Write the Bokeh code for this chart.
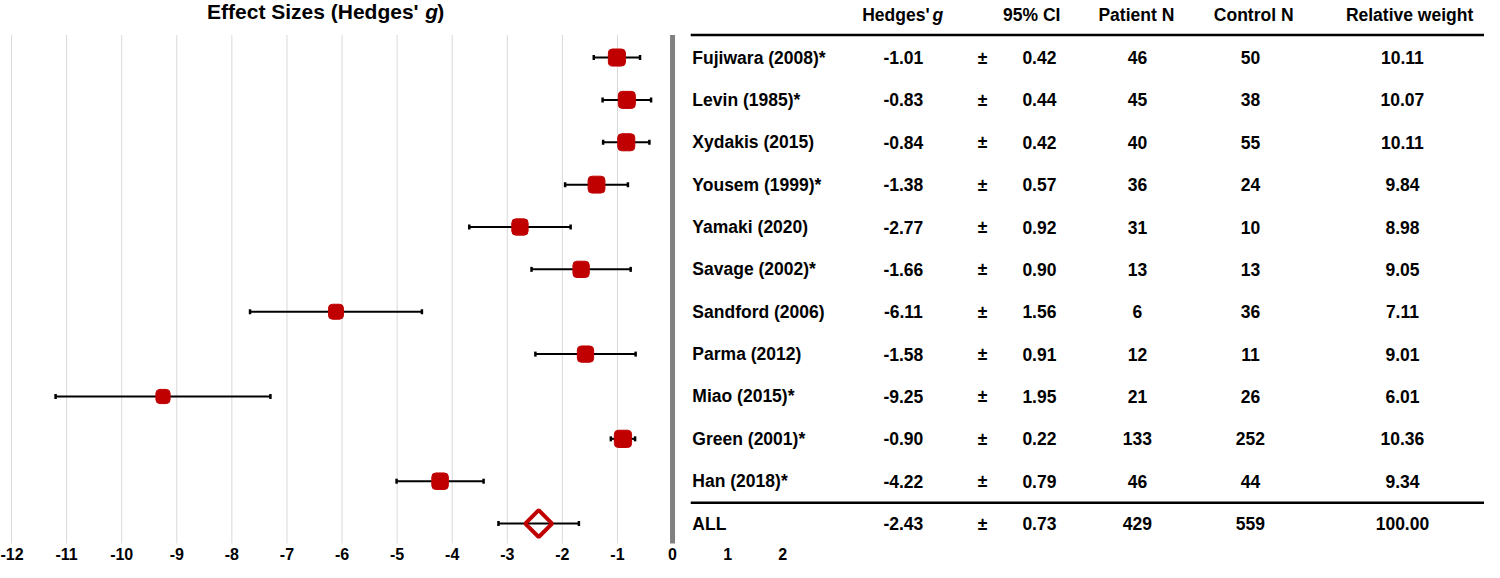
import numpy as np
from bokeh.plotting import figure
from bokeh.models import Range1d, FixedTicker
from bokeh.core.properties import value
from bokeh.embed import file_html
from bokeh.resources import INLINE

# ---------------- data ----------------
studies = ["Fujiwara (2008)*", "Levin (1985)*", "Xydakis (2015)", "Yousem (1999)*",
           "Yamaki (2020)", "Savage (2002)*", "Sandford (2006)", "Parma (2012)",
           "Miao (2015)*", "Green (2001)*", "Han (2018)*"]
hedges_g = [-1.01, -0.83, -0.84, -1.38, -2.77, -1.66, -6.11, -1.58, -9.25, -0.90, -4.22]
ci95 = [0.42, 0.44, 0.42, 0.57, 0.92, 0.90, 1.56, 0.91, 1.95, 0.22, 0.79]
patient_n = [46, 45, 40, 36, 31, 13, 6, 12, 21, 133, 46]
control_n = [50, 38, 55, 24, 10, 13, 36, 11, 26, 252, 44]
rel_weight = [10.11, 10.07, 10.11, 9.84, 8.98, 9.05, 7.11, 9.01, 6.01, 10.36, 9.34]

pooled_label = "ALL"
pooled_g = -2.43
pooled_ci = 0.73
pooled_patient = 429
pooled_control = 559
pooled_weight = 100.00

x_ticks = list(range(-12, 3))
grid_ticks = list(range(-12, 0))
title_parts = ["Effect Sizes (Hedges'", "g", ")"]
header_labels = ["Hedges'", "g", "95% CI", "Patient N", "Control N", "Relative weight"]

# ---------------- layout / style constants ----------------
FONT = value("Liberation Sans")
RED = "#c00000"
TBL_SIZE = "17.5px"
COL_NAME, COL_G, COL_PM, COL_CI, COL_PAT, COL_CTL, COL_W = 0.36, 4.19, 5.63, 6.66, 8.44, 10.49, 13.25
HDR_Y = -1.0
TITLE_Y = -1.08
TOP_LINE_Y = -0.53
BOTTOM_LINE_Y = 10.51
LINE_X0, LINE_X1 = 0.33, 15.2

n = len(studies)
ys = list(range(n))
pooled_y = n

p = figure(width=1484, height=562,
           x_range=Range1d(-12.2, 14.74), y_range=Range1d(11.47, -1.346),
           output_backend="svg", toolbar_location=None, y_axis_location=None,
           min_border_left=0, min_border_right=0, min_border_top=0, min_border_bottom=0)
p.outline_line_color = None
p.xgrid.visible = False
p.ygrid.visible = False
p.background_fill_color = "white"

ax = p.xaxis[0]
ax.ticker = FixedTicker(ticks=x_ticks)
ax.major_label_overrides = {t: str(t) for t in x_ticks}
ax.axis_line_color = None
ax.major_tick_line_color = None
ax.minor_tick_line_color = None
ax.major_tick_out = 0
ax.major_tick_in = 0
ax.major_label_standoff = 4
ax.major_label_text_font = "Liberation Sans"
ax.major_label_text_font_style = "bold"
ax.major_label_text_font_size = "16px"
ax.major_label_text_color = "black"

# grid lines (only for negative ticks)
p.segment(x0=grid_ticks, y0=[TOP_LINE_Y] * len(grid_ticks), x1=grid_ticks, y1=[12] * len(grid_ticks),
          line_color="#d9d9d9", line_width=1)
# null line bar
p.segment(x0=[0], y0=[TOP_LINE_Y], x1=[0], y1=[12], line_color="#808080", line_width=5)

# error bars
lo = [g - c for g, c in zip(hedges_g, ci95)] + [pooled_g - pooled_ci]
hi = [g + c for g, c in zip(hedges_g, ci95)] + [pooled_g + pooled_ci]
all_y = ys + [pooled_y]
p.segment(x0=lo, y0=all_y, x1=hi, y1=all_y, line_color="black", line_width=2)
p.scatter(x=lo + hi, y=all_y + all_y, marker="dash", angle=np.pi / 2, size=5,
          line_color="black", line_width=2.5)

# study markers
sizes = [10 + 0.7 * w for w in rel_weight]
p.rect(x=hedges_g, y=ys, width=sizes, height=sizes, width_units="screen", height_units="screen",
       fill_color=RED, line_color=RED, border_radius=4)

# pooled diamond
p.scatter(x=[pooled_g], y=[pooled_y], marker="square", angle=np.pi / 4, size=19,
          fill_color=None, line_color=RED, line_width=4)

# title
p.text(x=[-4.61], y=[TITLE_Y], text=[title_parts[0]], text_font=FONT, text_font_style="bold",
       text_font_size="21px", text_align="right", text_baseline="middle", text_color="black")
p.text(x=[-4.49], y=[TITLE_Y], text=[title_parts[1]], text_font=FONT, text_font_style="bold italic",
       text_font_size="21px", text_align="left", text_baseline="middle", text_color="black")
p.text(x=[-4.27], y=[TITLE_Y], text=[title_parts[2]], text_font=FONT, text_font_style="bold",
       text_font_size="21px", text_align="left", text_baseline="middle", text_color="black")

# header
p.text(x=[4.666], y=[HDR_Y], text=[header_labels[0]], text_font=FONT, text_font_style="bold",
       text_font_size=TBL_SIZE, text_align="right", text_baseline="middle", text_color="black")
p.text(x=[4.72], y=[HDR_Y], text=[header_labels[1]], text_font=FONT, text_font_style="bold italic",
       text_font_size=TBL_SIZE, text_align="left", text_baseline="middle", text_color="black")
p.text(x=[6.52, 8.42, 10.55, 13.38], y=[HDR_Y] * 4, text=header_labels[2:], text_font=FONT,
       text_font_style="bold", text_font_size=TBL_SIZE, text_align="center", text_baseline="middle",
       text_color="black")

# table lines
p.segment(x0=[LINE_X0, LINE_X0], y0=[TOP_LINE_Y, BOTTOM_LINE_Y], x1=[LINE_X1, LINE_X1],
          y1=[TOP_LINE_Y, BOTTOM_LINE_Y], line_color="black", line_width=2.5)

# table body
names = studies + [pooled_label]
g_txt = ["%.2f" % v for v in hedges_g] + ["%.2f" % pooled_g]
ci_txt = ["%.2f" % v for v in ci95] + ["%.2f" % pooled_ci]
pat_txt = [str(v) for v in patient_n] + [str(pooled_patient)]
ctl_txt = [str(v) for v in control_n] + [str(pooled_control)]
w_txt = ["%.2f" % v for v in rel_weight] + ["%.2f" % pooled_weight]

def col(xpos, texts, align):
    p.text(x=[xpos] * len(texts), y=all_y, text=texts, text_font=FONT, text_font_style="bold",
           text_font_size=TBL_SIZE, text_align=align, text_baseline="middle", text_color="black")

col(COL_NAME, names, "left")
col(COL_G, g_txt, "center")
col(COL_PM, ["±"] * len(all_y), "center")
col(COL_CI, ci_txt, "center")
col(COL_PAT, pat_txt, "center")
col(COL_CTL, ctl_txt, "center")
col(COL_W, w_txt, "center")

open("out.html", "w").write(file_html(p, INLINE))
